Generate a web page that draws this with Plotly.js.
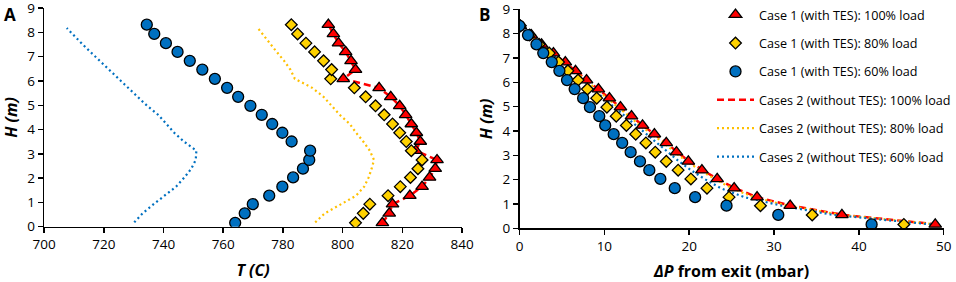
<!DOCTYPE html>
<html>
<head>
<meta charset="utf-8">
<script src="https://cdn.plot.ly/plotly-3.0.1.min.js"></script>
<style>html,body{margin:0;padding:0;background:#fff;}#chart{width:956px;height:282px;}</style>
</head>
<body>
<div id="chart"></div>
<script>
// Heights (m) of the measurement points, bottom to top
const H_pts  = [0.16,0.55,0.93,1.28,1.65,2.03,2.39,2.75,3.13,3.51,3.87,4.23,4.61,4.98,5.35,5.72,6.09,6.47,6.83,7.20,7.56,7.94,8.32];
// Heights for the "without TES" temperature profiles (panel A)
const H_line = [0.18,0.55,0.93,1.28,1.65,2.03,2.39,2.75,3.13,3.51,3.87,4.23,4.61,4.98,5.35,5.72,6.09,6.47,6.83,7.20,7.56,7.94,8.18];

// Panel A: temperature T (C)
const T_case1_100 = [813.3,815.6,816.7,822.5,826.6,829.1,831.0,831.6,824.5,826.0,824.7,823.0,821.1,819.1,816.1,812.2,800.2,804.3,802.8,801.0,798.6,796.9,795.2];
const T_case1_80  = [804.3,806.9,809.1,815.2,819.3,822.7,825.2,826.6,823.0,821.3,819.1,816.7,813.9,811.0,807.7,803.9,796.0,796.3,793.6,790.6,787.7,784.9,782.8];
const T_case1_60  = [764.0,767.2,769.9,775.4,779.8,783.4,786.7,788.8,789.1,782.9,779.8,776.4,772.9,769.1,765.0,761.3,757.2,753.0,748.8,744.7,740.8,736.9,734.4];
const T_case2_100 = [813.3,815.6,816.7,822.5,826.6,829.1,831.0,831.6,824.5,826.0,824.7,823.0,821.1,819.1,816.1,812.2,800.2,804.3,802.8,801.0,798.6,796.9,795.2];
const T_case2_80  = [790.8,794.0,799.5,804.5,807.2,808.7,809.7,810.5,809.1,806.9,804.5,802.4,799.0,796.3,793.6,789.8,784.0,782.5,780.4,777.9,775.6,773.1,771.6];
const T_case2_60  = [730.2,733.0,736.7,740.2,744.2,747.0,749.3,750.8,751.0,746.8,743.6,741.0,738.2,734.5,731.3,728.1,724.8,721.5,718.5,715.5,712.5,709.5,707.6];

// Panel B: pressure drop from exit (mbar)
const P_case1_100 = [49.0,38.0,31.9,28.0,25.3,23.3,21.5,19.9,18.5,17.3,15.9,14.5,13.2,11.9,10.6,9.3,7.9,6.6,5.4,4.0,2.6,1.4,0.1];
const P_case1_80  = [45.3,34.5,28.4,24.7,22.1,20.2,18.7,17.3,16.0,14.9,13.7,12.6,11.4,10.3,9.1,8.0,6.9,5.7,4.6,3.5,2.3,1.2,0.1];
const P_case1_60  = [41.5,30.5,24.4,20.7,18.3,16.6,15.3,14.2,13.1,12.1,11.1,10.1,9.4,8.3,7.5,6.5,5.6,4.7,3.8,2.8,2.0,1.0,0.0];
const P_case2_100 = [49.2,38.2,32.0,28.0,25.4,23.3,21.6,20.0,18.6,17.3,15.9,14.5,13.2,11.9,10.6,9.3,7.9,6.6,5.4,4.0,2.6,1.3,0.0];
const P_case2_80  = [49.0,38.0,31.6,27.6,25.0,23.0,21.3,19.7,18.3,17.0,15.6,14.2,12.9,11.6,10.3,9.0,7.7,6.4,5.2,3.9,2.6,1.3,0.0];
const P_case2_60  = [48.5,37.0,30.9,26.5,23.7,21.8,20.2,18.8,17.5,16.2,14.9,13.6,12.3,11.1,9.9,8.7,7.4,6.1,4.9,3.7,2.4,1.2,0.0];

const names = [
  "Case 1 (with TES): 100% load",
  "Case 1 (with TES): 80% load",
  "Case 1 (with TES): 60% load",
  "Cases 2 (without TES): 100% load",
  "Cases 2 (without TES): 80% load",
  "Cases 2 (without TES): 60% load"
];
const xTicksA = [700,720,740,760,780,800,820,840];
const xTicksB = [0,10,20,30,40,50];
const yTicks  = [0,1,2,3,4,5,6,7,8,9];

const FONT = "Open Sans, sans-serif";
const BLUE = "#0070C0", GOLD = "#FFD200", RED = "#FF0000", YLINE = "#FFC000";

const markerStyles = [
  {symbol:"triangle-up", size:11, color:RED,  line:{color:"#000", width:1.3}},
  {symbol:"diamond",     size:9,  color:GOLD, line:{color:"#000", width:1.3}},
  {symbol:"circle",      size:11, color:BLUE, line:{color:"#000", width:1.3}}
];
const lineStyles = [
  {color:RED,   width:2.5, dash:"7px,4px"},
  {color:YLINE, width:2.2, dash:"2px,3px"},
  {color:BLUE,  width:2.2, dash:"2px,3px"}
];

const A_pts = [T_case1_100, T_case1_80, T_case1_60];
const A_lin = [T_case2_100, T_case2_80, T_case2_60];
const B_pts = [P_case1_100, P_case1_80, P_case1_60];
const B_lin = [P_case2_100, P_case2_80, P_case2_60];

const traces = [];
// lines first (drawn underneath)
for (let i = 0; i < 3; i++) {
  traces.push({x:A_lin[i], y:(i===0?H_pts:H_line), type:"scatter", mode:"lines", line:lineStyles[i],
    name:names[3+i], legendgroup:"g"+(3+i), showlegend:false, xaxis:"x", yaxis:"y", hoverinfo:"skip"});
  traces.push({x:B_lin[i], y:H_pts, type:"scatter", mode:"lines", line:lineStyles[i],
    name:names[3+i], legendgroup:"g"+(3+i), legendrank:4+i, showlegend:true, xaxis:"x2", yaxis:"y2"});
}
for (let i = 0; i < 3; i++) {
  traces.push({x:A_pts[i], y:H_pts, type:"scatter", mode:"markers", marker:markerStyles[i],
    name:names[i], legendgroup:"g"+i, showlegend:false, xaxis:"x", yaxis:"y"});
  traces.push({x:B_pts[i], y:H_pts, type:"scatter", mode:"markers", marker:markerStyles[i],
    name:names[i], legendgroup:"g"+i, legendrank:1+i, showlegend:true, xaxis:"x2", yaxis:"y2"});
}

const axisCommon = {
  showgrid:false, zeroline:false, showline:true, linecolor:"#000", linewidth:1.5,
  ticks:"outside", ticklen:5, tickwidth:1.5, tickcolor:"#000", ticklabeloverflow:"allow",
  tickfont:{family:FONT, size:13.5, color:"#000"}
};

const layout = {
  width:956, height:282,
  margin:{l:0, r:0, t:0, b:0},
  paper_bgcolor:"#fff", plot_bgcolor:"#fff",
  showlegend:true,
  font:{family:FONT, color:"#000"},
  xaxis: Object.assign({}, axisCommon, {domain:[0.0463,0.4854], range:[700,840], tickvals:xTicksA,
    title:{text:"<b><i>T (C)</i></b>", font:{family:FONT, size:16}, standoff:12}, anchor:"y"}),
  yaxis: Object.assign({}, axisCommon, {domain:[0.196,0.971], range:[0,9], tickvals:yTicks,
    title:{text:"<b><i>H (m)</i></b>", font:{family:FONT, size:16}, standoff:6}, anchor:"x"}),
  xaxis2: Object.assign({}, axisCommon, {domain:[0.5457,0.9913], range:[0,50], tickvals:xTicksB,
    title:{text:"<b><i>ΔP</i> from exit (mbar)</b>", font:{family:FONT, size:16}, standoff:12}, anchor:"y2"}),
  yaxis2: Object.assign({}, axisCommon, {domain:[0.1904,0.967], range:[0,9], tickvals:yTicks,
    title:{text:"<b><i>H (m)</i></b>", font:{family:FONT, size:16}, standoff:6}, anchor:"x2"}),
  legend:{x:0.748, xanchor:"left", y:1.0, yanchor:"top", traceorder:"grouped", tracegroupgap:9,
    itemwidth:37, font:{family:FONT, size:12.6, color:"#000"}, bgcolor:"rgba(0,0,0,0)", borderwidth:0},
  annotations:[
    {text:"<b>A</b>", xref:"paper", yref:"paper", x:0.002, y:0.998, xanchor:"left", yanchor:"top", showarrow:false, font:{family:FONT, size:17, color:"#000"}},
    {text:"<b>B</b>", xref:"paper", yref:"paper", x:0.501, y:0.998, xanchor:"left", yanchor:"top", showarrow:false, font:{family:FONT, size:17, color:"#000"}}
  ]
};

Plotly.newPlot("chart", traces, layout, {displayModeBar:false, staticPlot:true});
</script>
</body>
</html>
